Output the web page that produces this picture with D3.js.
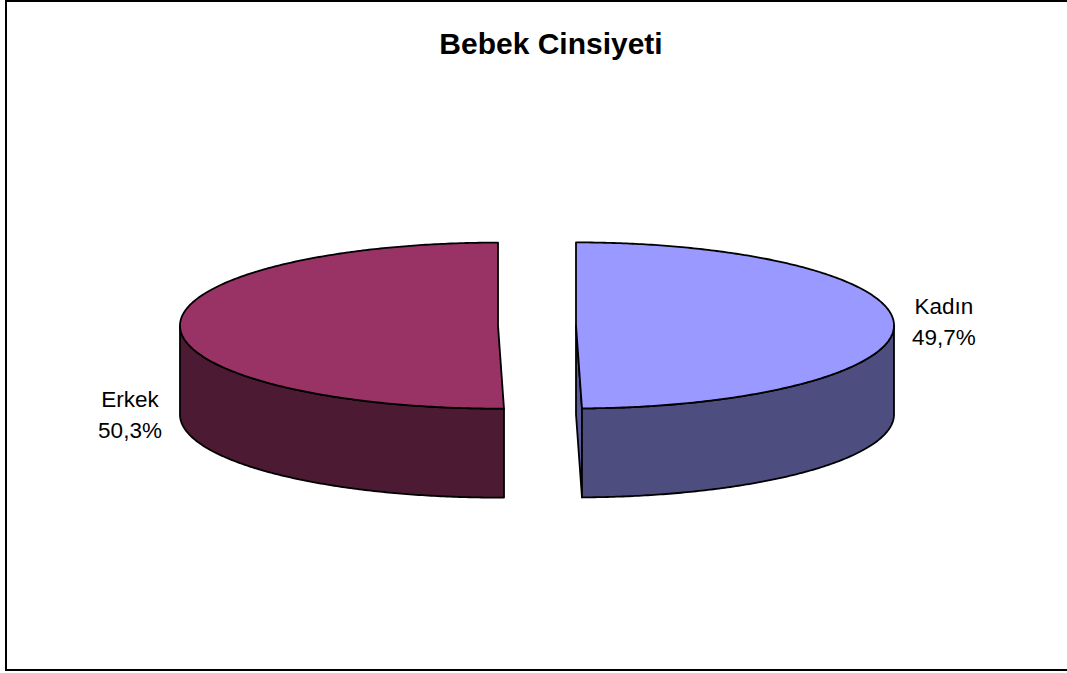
<!DOCTYPE html>
<html>
<head>
<meta charset="utf-8">
<script src="https://cdn.jsdelivr.net/npm/d3@7"></script>
<style>
  html, body { margin: 0; padding: 0; background: #fff; }
  svg { display: block; }
</style>
</head>
<body>
<svg id="chart" width="1067" height="673"></svg>
<script>
// Baby sex distribution
const title = "Bebek Cinsiyeti";
const categories = ["Kadın", "Erkek"];
const values = [49.7, 50.3];
const topColors = ["#9999FF", "#993366"];
const sideColors = ["#4D4D80", "#4D1A33"];
const cutColors = ["#5B5B9E", "#6B2447"];

const W = 1067, H = 673;
const svg = d3.select("#chart");

// frame
svg.append("path")
  .attr("d", `M6,0 L6,670 L${W + 2},670 M6,1 L${W + 2},1`)
  .attr("fill", "none")
  .attr("stroke", "#000")
  .attr("stroke-width", 2);

svg.append("text")
  .attr("x", 551).attr("y", 54)
  .attr("text-anchor", "middle")
  .attr("font-family", "'Liberation Sans', Arial, sans-serif")
  .attr("font-weight", "bold")
  .attr("font-size", 30)
  .text(title);

// 3D ellipse geometry
const cx0 = 537, cy0 = 325.5;
const rx = 318, ry = 83, depth = 89, explode = 39;

const pie = d3.pie().sort(null).value(d => d)
  .startAngle(0).endAngle(2 * Math.PI);
const arcs = pie(values);

const pct = v => d3.format(".1f")(v).replace(".", ",") + "%";
const line = d3.line();

function pt(c, a, dz = 0) {
  return [c[0] + rx * Math.sin(a), c[1] - ry * Math.cos(a) + dz];
}
function arcPoints(c, a0, a1, dz = 0) {
  const n = Math.max(2, Math.ceil(Math.abs(a1 - a0) / 0.01));
  return d3.range(n + 1).map(i => pt(c, a0 + (a1 - a0) * i / n, dz));
}

const slices = arcs.map((d, i) => {
  const mid = (d.startAngle + d.endAngle) / 2;
  const c = [cx0 + explode * Math.sin(mid), cy0 - explode * (ry / rx) * Math.cos(mid)];
  return { d, i, mid, c };
});

const g = svg.append("g")
  .attr("stroke", "#000")
  .attr("stroke-width", 1.8)
  .attr("stroke-linejoin", "round");

// cut faces along the radii, when turned toward the viewer
slices.forEach(s => {
  const { d, c, i } = s;
  [[d.endAngle, Math.sin(d.endAngle) > 1e-6], [d.startAngle, Math.sin(d.startAngle) < -1e-6]]
    .forEach(([a, vis]) => {
      if (!vis) return;
      const p = pt(c, a);
      const pts = [c, p, [p[0], p[1] + depth], [c[0], c[1] + depth]];
      g.append("path").attr("d", line(pts) + "Z").attr("fill", cutColors[i]);
    });
});

// outer curved walls (front half only)
slices.forEach(s => {
  const { d, c, i } = s;
  const a0 = Math.max(d.startAngle, Math.PI / 2);
  const a1 = Math.min(d.endAngle, 3 * Math.PI / 2);
  if (a1 <= a0) return;
  const pts = arcPoints(c, a0, a1).concat(arcPoints(c, a1, a0, depth));
  g.append("path").attr("d", line(pts) + "Z").attr("fill", sideColors[i]);
});

// top faces
slices.forEach(s => {
  const { d, c, i } = s;
  const pts = [c].concat(arcPoints(c, d.startAngle, d.endAngle));
  g.append("path").attr("d", line(pts) + "Z").attr("fill", topColors[i]);
});

// labels
slices.forEach(s => {
  const { d, c, i, mid } = s;
  const edge = pt(c, mid);
  const right = Math.sin(mid) > 0;
  const x = edge[0] + (right ? 50 : -50);
  const yc = edge[1] + (right ? -4 : depth - 1);
  const t = svg.append("text")
    .attr("text-anchor", "middle")
    .attr("font-family", "'Liberation Sans', Arial, sans-serif")
    .attr("font-size", 22.5)
    .attr("fill", "#000");
  t.append("tspan").attr("x", x).attr("y", yc - 7).text(categories[i]);
  t.append("tspan").attr("x", x).attr("y", yc + 24).text(pct(values[i]));
});
</script>
</body>
</html>
